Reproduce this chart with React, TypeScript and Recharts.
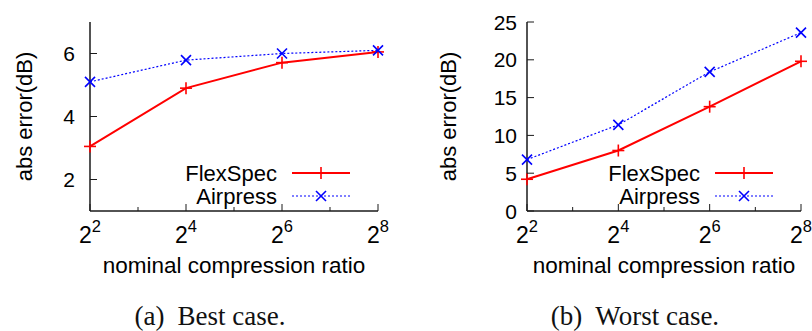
import React from 'react';
import { LineChart, Line, XAxis, YAxis, Legend } from 'recharts';

// exponent k of the nominal compression ratio 2^k
const exponents = [2, 4, 6, 8];
const xTicks = [2, 3, 4, 5, 6, 7, 8];

const bestFlexSpec = [3.05, 4.9, 5.71, 6.05];
const bestAirpress = [5.1, 5.79, 6.0, 6.1];
const bestTicks = [2, 4, 6];

const worstFlexSpec = [4.2, 8.0, 13.8, 19.8];
const worstAirpress = [6.8, 11.4, 18.4, 23.6];
const worstTicks = [0, 5, 10, 15, 20, 25];

const RED = '#ff0000';
const BLUE = '#0000ff';
const FRAME = '#1a1a1a';
const SANS = '"Liberation Sans", Arial, Helvetica, sans-serif';
const SERIF = '"Liberation Serif", "Times New Roman", serif';

const CHART_H = 290;
const PLOT_TOP = 22;
const PLOT_BOTTOM = 211;

const PlusDot = (props: any) => {
  const { cx, cy } = props;
  if (cx == null || cy == null) return null;
  return (
    <g stroke={RED} strokeWidth={1.6}>
      <line x1={cx - 6} x2={cx + 6} y1={cy} y2={cy} />
      <line x1={cx} x2={cx} y1={cy - 6} y2={cy + 6} />
    </g>
  );
};

const CrossDot = (props: any) => {
  const { cx, cy } = props;
  if (cx == null || cy == null) return null;
  return (
    <g stroke={BLUE} strokeWidth={1.6}>
      <line x1={cx - 5} x2={cx + 5} y1={cy - 5} y2={cy + 5} />
      <line x1={cx - 5} x2={cx + 5} y1={cy + 5} y2={cy - 5} />
    </g>
  );
};

const BottomTick = (props: any) => {
  const { x, y, payload } = props;
  const major = payload.value % 2 === 0;
  return (
    <g>
      <line x1={x} x2={x} y1={y} y2={y - (major ? 7 : 4)} stroke={FRAME} strokeWidth={1} />
      {major && (
        <text x={x} y={y + 32} textAnchor="middle" fill="#000" fontFamily={SANS} fontSize={23}>
          2<tspan dy={-11} fontSize={16.5}>{payload.value}</tspan>
        </text>
      )}
    </g>
  );
};

const TopTick = (props: any) => {
  const { x, y, payload } = props;
  const major = payload.value % 2 === 0;
  return <line x1={x} x2={x} y1={y} y2={y + (major ? 7 : 4)} stroke={FRAME} strokeWidth={1} />;
};

const makeLeftTick = (gap: number) => (props: any) => {
  const { x, y, payload } = props;
  return (
    <g>
      <line x1={x} x2={x + 7} y1={y} y2={y} stroke={FRAME} strokeWidth={1} />
      <text x={x - gap} y={y} dy={7.5} textAnchor="end" fill="#000" fontFamily={SANS} fontSize={21}>
        {payload.value}
      </text>
    </g>
  );
};

const RightTick = (props: any) => {
  const { x, y } = props;
  return <line x1={x} x2={x - 7} y1={y} y2={y} stroke={FRAME} strokeWidth={1} />;
};

const makeYLabel = (cx: number) => (props: any) => {
  const vb = props.viewBox || {};
  const cy = (vb.y ?? PLOT_TOP) + (vb.height ?? PLOT_BOTTOM - PLOT_TOP) / 2;
  return (
    <text
      x={cx}
      y={cy}
      transform={`rotate(-90, ${cx}, ${cy})`}
      textAnchor="middle"
      dominantBaseline="central"
      fill="#000"
      fontFamily={SANS}
      fontSize={22}
    >
      abs error(dB)
    </text>
  );
};

const LegendBox = ({ textX }: { textX: number }) => {
  const l0 = textX + 15;
  const l1 = textX + 73;
  const m = (l0 + l1) / 2;
  return (
    <svg width={textX + 80} height={48} style={{ display: 'block', overflow: 'visible' }}>
      <text x={textX} y={13} dy={8} textAnchor="end" fontFamily={SANS} fontSize={22} fill="#000">
        FlexSpec
      </text>
      <line x1={l0} x2={l1} y1={13} y2={13} stroke={RED} strokeWidth={2} />
      <PlusDot cx={m} cy={13} />
      <text x={textX} y={36} dy={8} textAnchor="end" fontFamily={SANS} fontSize={22} fill="#000">
        Airpress
      </text>
      <line x1={l0} x2={l1} y1={36} y2={36} stroke={BLUE} strokeWidth={1.2} strokeDasharray="2 2" />
      <CrossDot cx={m} cy={36} />
    </svg>
  );
};

interface PanelProps {
  left: number;
  width: number;
  yAxisWidth: number;
  marginRight: number;
  flex: number[];
  air: number[];
  yDomain: [number, number];
  yTicks: number[];
  tickGap: number;
  yLabelX: number;
  legendLeft: number;
  legendTextX: number;
  caption: string[];
  captionCenter: number;
}

const Panel: React.FC<PanelProps> = (p) => {
  const data = exponents.map((e, i) => ({ exp: e, flex: p.flex[i], air: p.air[i] }));
  const LeftTick = makeLeftTick(p.tickGap);
  return (
    <>
      <div style={{ position: 'absolute', left: p.left, top: 0 }}>
        <LineChart
          width={p.width}
          height={CHART_H}
          data={data}
          margin={{ top: PLOT_TOP, right: p.marginRight, left: 0, bottom: CHART_H - PLOT_BOTTOM - 60 }}
        >
          <XAxis
            dataKey="exp"
            type="number"
            domain={[2, 8]}
            ticks={xTicks}
            interval={0}
            height={60}
            tickSize={0}
            tickMargin={0}
            tickLine={false}
            axisLine={{ stroke: FRAME, strokeWidth: 1.5 }}
            tick={<BottomTick />}
            label={{ value: 'nominal compression ratio', position: 'insideBottom', offset: -2, fill: '#000', fontFamily: SANS, fontSize: 22.5 }}
          />
          <XAxis
            xAxisId="top"
            orientation="top"
            dataKey="exp"
            type="number"
            domain={[2, 8]}
            ticks={xTicks}
            interval={0}
            height={0}
            tickSize={0}
            tickMargin={0}
            tickLine={false}
            axisLine={{ stroke: FRAME, strokeWidth: 1.5 }}
            tick={<TopTick />}
          />
          <YAxis
            type="number"
            domain={p.yDomain}
            ticks={p.yTicks}
            interval={0}
            width={p.yAxisWidth}
            tickSize={0}
            tickMargin={0}
            tickLine={false}
            axisLine={{ stroke: FRAME, strokeWidth: 1.5 }}
            tick={<LeftTick />}
            label={makeYLabel(p.yLabelX)}
          />
          <YAxis
            yAxisId="right"
            orientation="right"
            type="number"
            domain={p.yDomain}
            ticks={p.yTicks}
            interval={0}
            width={0}
            tickSize={0}
            tickMargin={0}
            tickLine={false}
            axisLine={{ stroke: FRAME, strokeWidth: 1.5 }}
            tick={<RightTick />}
          />
          <Legend
            layout="vertical"
            align="center"
            verticalAlign="middle"
            wrapperStyle={{ left: p.legendLeft, top: 160, width: p.legendTextX + 80, height: 48 }}
            content={() => <LegendBox textX={p.legendTextX} />}
          />
          <Line
            dataKey="flex"
            name="FlexSpec"
            stroke={RED}
            strokeWidth={2}
            dot={<PlusDot />}
            activeDot={false}
            isAnimationActive={false}
          />
          <Line
            dataKey="air"
            name="Airpress"
            stroke={BLUE}
            strokeWidth={1.2}
            strokeDasharray="2 2"
            dot={<CrossDot />}
            activeDot={false}
            isAnimationActive={false}
          />
        </LineChart>
      </div>
      <div
        style={{
          position: 'absolute',
          left: p.captionCenter - 120,
          width: 240,
          top: 301,
          textAlign: 'center',
          fontFamily: SERIF,
          fontSize: 27,
          lineHeight: '30px',
          color: '#111',
          whiteSpace: 'pre',
        }}
      >
        {p.caption[0]}
        <span style={{ display: 'inline-block', width: 13 }} />
        {p.caption[1]}
      </div>
    </>
  );
};

export default function App() {
  return (
    <div style={{ position: 'absolute', left: 0, top: 0, width: 812, height: 331, background: '#fff', overflow: 'hidden' }}>
      <Panel
        left={0}
        width={400}
        yAxisWidth={90}
        marginRight={22}
        flex={bestFlexSpec}
        air={bestAirpress}
        yDomain={[1, 7]}
        yTicks={bestTicks}
        tickGap={15}
        yLabelX={24}
        legendLeft={150}
        legendTextX={127}
        caption={['(a)', 'Best case.']}
        captionCenter={210}
      />
      <Panel
        left={400}
        width={412}
        yAxisWidth={127}
        marginRight={11}
        flex={worstFlexSpec}
        air={worstAirpress}
        yDomain={[0, 25]}
        yTicks={worstTicks}
        tickGap={10}
        yLabelX={48}
        legendLeft={170}
        legendTextX={130}
        caption={['(b)', 'Worst case.']}
        captionCenter={635}
      />
    </div>
  );
}
